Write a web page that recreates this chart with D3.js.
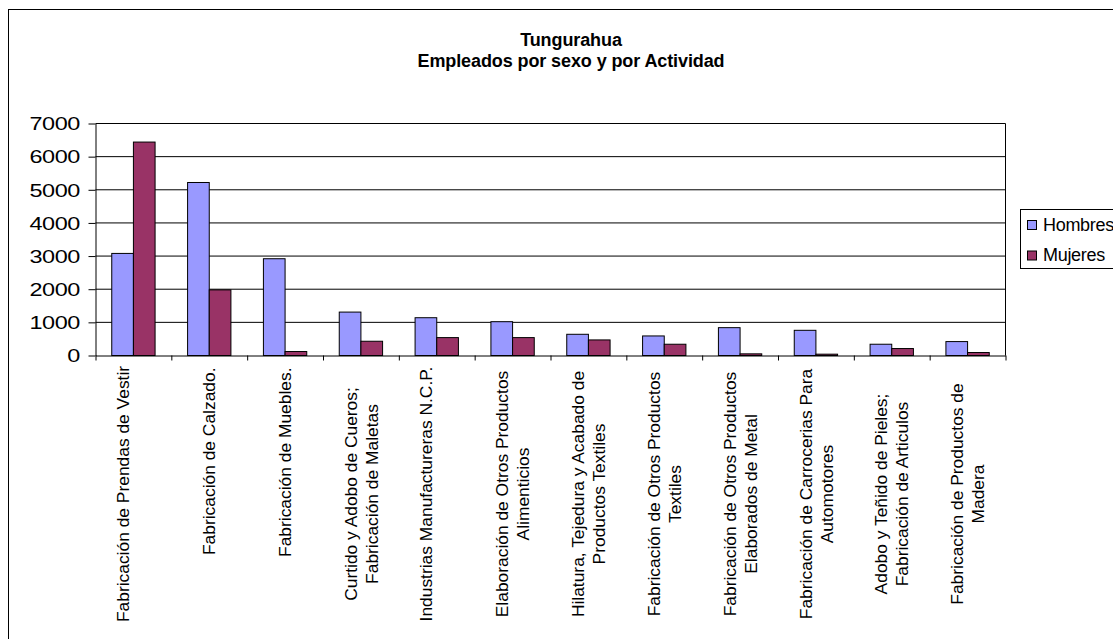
<!DOCTYPE html>
<html>
<head>
<meta charset="utf-8">
<script src="https://cdn.jsdelivr.net/npm/d3@7"></script>
<style>
  html, body { margin: 0; padding: 0; background: #fff; overflow: hidden; }
  svg { display: block; font-family: "Liberation Sans", Arial, sans-serif; }
</style>
</head>
<body>
<div id="chart"></div>
<script>
// Tungurahua – empleados por sexo y por actividad (grouped bars)

const categories = [
  "Fabricación de Prendas de Vestir",
  "Fabricación de Calzado.",
  "Fabricación de Muebles.",
  "Curtido y Adobo de Cueros;\nFabricación de Maletas",
  "Industrias Manufactureras N.C.P.",
  "Elaboración de Otros Productos\nAlimenticios",
  "Hilatura, Tejedura y Acabado de\nProductos Textiles",
  "Fabricación de Otros Productos\nTextiles",
  "Fabricación de Otros Productos\nElaborados de Metal",
  "Fabricación de Carrocerias Para\nAutomotores",
  "Adobo y Teñido de Pieles;\nFabricación de Articulos",
  "Fabricación de Productos de\nMadera"
];

const seriesNames = ["Hombres", "Mujeres"];
const hombres = [3080, 5220, 2920, 1310, 1140, 1020, 640, 590, 840, 760, 340, 420];
const mujeres = [6440, 1980, 120, 430, 540, 540, 470, 340, 50, 40, 210, 90];
const yTicks = [0, 1000, 2000, 3000, 4000, 5000, 6000, 7000];

const titleLines = ["Tungurahua", "Empleados por sexo y por Actividad"];

(function () {
  const width = 1113;
  const height = 639;
  const plot = { left: 95.5, right: 1005.5, top: 123.5, bottom: 355.5 };

  const colors = { Hombres: "#9999ff", Mujeres: "#993366" };
  const values = { Hombres: hombres, Mujeres: mujeres };

  const data = categories.map((c, i) => ({
    cat: c,
    vals: seriesNames.map(s => ({ key: s, value: values[s][i] }))
  }));

  const svg = d3.select("#chart")
    .append("svg")
    .attr("width", width)
    .attr("height", height);

  // outer chart frame (runs past the window on the right / bottom)
  svg.append("rect")
    .attr("x", 8.5)
    .attr("y", 9.5)
    .attr("width", 1140)
    .attr("height", 660)
    .attr("fill", "#fff")
    .attr("stroke", "#000")
    .attr("stroke-width", 1);

  // title
  svg.append("g")
    .selectAll("text")
    .data(titleLines)
    .enter()
    .append("text")
    .attr("x", 571)
    .attr("y", (d, i) => 46 + i * 20.5)
    .attr("text-anchor", "middle")
    .style("font-size", "18px")
    .style("font-weight", "bold")
    .style("letter-spacing", "-0.1px")
    .text(d => d);

  const x0 = d3.scaleBand()
    .domain(categories)
    .range([plot.left, plot.right])
    .paddingInner(0)
    .paddingOuter(0);

  const x1 = d3.scaleBand()
    .domain(seriesNames)
    .range([0, x0.bandwidth()])
    .paddingInner(0)
    .paddingOuter(0.75);

  const xIdx = d3.scaleLinear()
    .domain([0, categories.length])
    .range([plot.left, plot.right]);

  const y = d3.scaleLinear()
    .domain([0, 7000])
    .range([plot.bottom, plot.top]);

  // gridlines
  svg.append("g")
    .selectAll("line")
    .data(yTicks.filter(t => t > 0))
    .enter()
    .append("line")
    .attr("x1", plot.left)
    .attr("x2", plot.right)
    .attr("y1", d => y(d))
    .attr("y2", d => y(d))
    .attr("stroke", "#000")
    .attr("stroke-width", 1);

  // plot area right border
  svg.append("line")
    .attr("x1", plot.right)
    .attr("x2", plot.right)
    .attr("y1", plot.top)
    .attr("y2", plot.bottom)
    .attr("stroke", "#000");

  // bars
  const groups = svg.append("g")
    .selectAll("g")
    .data(data)
    .enter()
    .append("g")
    .attr("transform", d => `translate(${x0(d.cat)},0)`);

  groups.selectAll("rect")
    .data(d => d.vals)
    .enter()
    .append("rect")
    .attr("x", d => x1(d.key))
    .attr("y", d => y(d.value))
    .attr("width", x1.bandwidth())
    .attr("height", d => y(0) - y(d.value))
    .attr("fill", d => colors[d.key])
    .attr("stroke", "#000")
    .attr("stroke-width", 1);

  // y axis
  const yAxisG = svg.append("g")
    .attr("transform", `translate(${plot.left},0)`)
    .call(d3.axisLeft(y).tickValues(yTicks).tickSize(7).tickSizeOuter(0).tickFormat(d3.format("d")));

  yAxisG.select(".domain").attr("stroke", "#000");
  yAxisG.selectAll(".tick line").attr("stroke", "#000");
  yAxisG.selectAll(".tick text")
    .attr("x", 0)
    .attr("dy", "0.36em")
    .attr("transform", "translate(-15.5,0) scale(1.34,1)")
    .attr("fill", "#000")
    .style("font-family", "'Liberation Sans', Arial, sans-serif")
    .style("font-size", "17.5px")
    .style("letter-spacing", "-0.3px");

  // x axis: ticks on category boundaries
  const xAxisG = svg.append("g")
    .attr("transform", `translate(0,${plot.bottom})`)
    .call(d3.axisBottom(xIdx).tickValues(d3.range(categories.length + 1)).tickSize(5).tickSizeOuter(0).tickFormat(""));

  xAxisG.select(".domain").attr("stroke", "#000");
  xAxisG.selectAll(".tick line").attr("stroke", "#000");

  // category labels, rotated
  const labelTop = plot.bottom + 12;
  const wrapCenter = 494;
  const lineGap = 21;

  const labels = svg.append("g")
    .selectAll("g")
    .data(categories)
    .enter()
    .append("g");

  labels.each(function (c) {
    const g = d3.select(this);
    const lines = c.split("\n");
    const cx = x0(c) + x0.bandwidth() / 2;

    const texts = g.selectAll("text")
      .data(lines)
      .enter()
      .append("text")
      .style("font-size", "17.4px")
      .attr("fill", "#000")
      .text(d => d);

    let n = lines.length;
    // long single lines wrap with an empty second line in the original
    if (n === 1 && texts.node().getComputedTextLength() > 235) n = 2;

    texts
      .attr("text-anchor", n === 1 ? "end" : "middle")
      .attr("dy", "0.35em")
      .attr("transform", (d, i) => {
        const lx = cx + (i - (n - 1) / 2) * lineGap;
        const ly = n === 1 ? labelTop : wrapCenter;
        return `translate(${lx},${ly}) rotate(-90)`;
      });
  });

  // legend
  const legend = svg.append("g");

  legend.append("rect")
    .attr("x", 1020.5)
    .attr("y", 209.5)
    .attr("width", 110)
    .attr("height", 59)
    .attr("fill", "#fff")
    .attr("stroke", "#000");

  seriesNames.forEach((s, i) => {
    const row = legend.append("g")
      .attr("transform", `translate(0,${i * 30.5})`);

    row.append("rect")
      .attr("x", 1027.5)
      .attr("y", 220.5)
      .attr("width", 9)
      .attr("height", 9)
      .attr("fill", colors[s])
      .attr("stroke", "#000");

    row.append("text")
      .attr("x", 1043)
      .attr("y", 230.5)
      .style("font-size", "18px")
      .style("letter-spacing", "-0.3px")
      .text(s);
  });
})();
</script>
</body>
</html>
